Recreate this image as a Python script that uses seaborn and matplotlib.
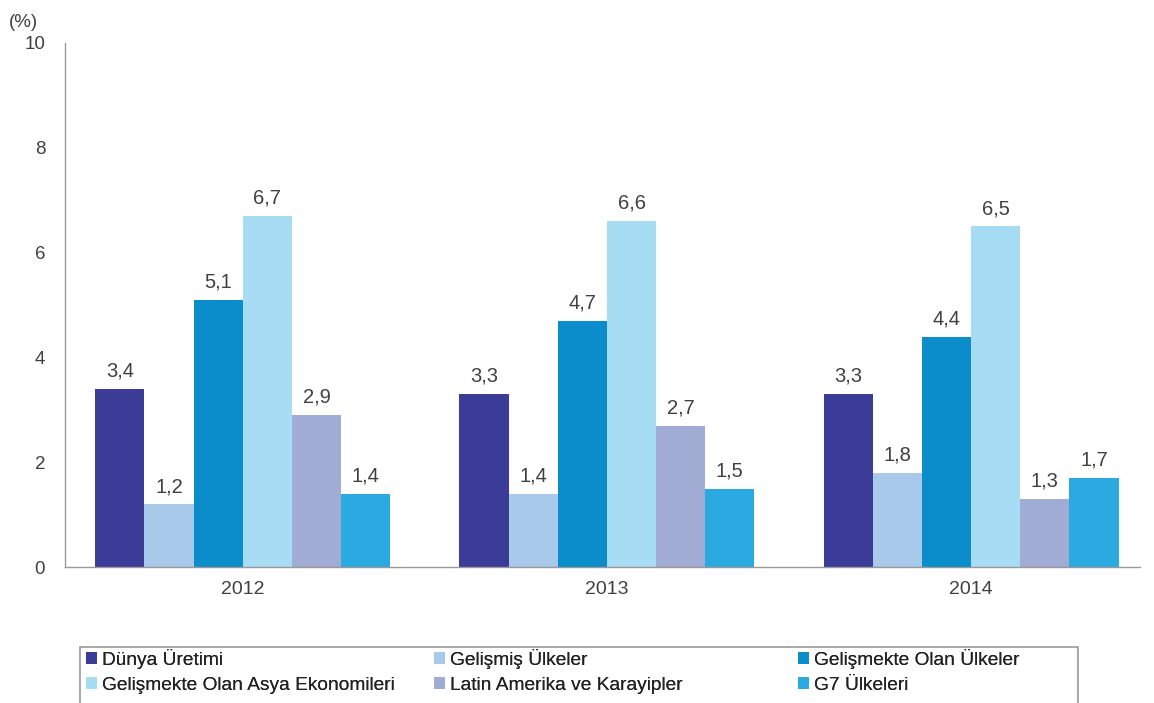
import numpy as np
import pandas as pd
import matplotlib
matplotlib.use("Agg")
import matplotlib.pyplot as plt
from matplotlib.patches import Patch, Rectangle
import seaborn as sns

# Data
years = ['2012', '2013', '2014']
series = ['Dünya Üretimi', 'Gelişmiş Ülkeler', 'Gelişmekte Olan Ülkeler',
          'Gelişmekte Olan Asya Ekonomileri', 'Latin Amerika ve Karayipler',
          'G7 Ülkeleri']
dunya = [3.4, 3.3, 3.3]
gelismis = [1.2, 1.4, 1.8]
gelismekte = [5.1, 4.7, 4.4]
asya = [6.7, 6.6, 6.5]
latin = [2.9, 2.7, 1.3]
g7 = [1.4, 1.5, 1.7]
colors = ['#3a3c98', '#a9c9ea', '#0b8ccb', '#a7dcf5', '#a1acd5', '#2ba9e1']

values = [dunya, gelismis, gelismekte, asya, latin, g7]
df = pd.DataFrame({
    'year': [y for s in series for y in years],
    'series': [s for s in series for _ in years],
    'value': [v for vals in values for v in vals],
})

sns.set_style('white')
plt.rcParams['font.family'] = ['Liberation Sans', 'DejaVu Sans']
txt_color = '#404040'

fig = plt.figure(figsize=(11.54, 7.03), dpi=100)
ax = fig.add_axes([0.056, 0.193, 0.932, 0.746])

sns.barplot(data=df, x='year', y='value', hue='series', hue_order=series,
            order=years, palette=colors, width=0.81, gap=0, saturation=1,
            linewidth=0, legend=False, ax=ax)

for cont in ax.containers:
    ax.bar_label(cont, labels=[f'{v:.1f}'.replace('.', ',') for v in cont.datavalues],
                 padding=6, fontsize=14.5, color=txt_color)

ax.set_ylim(0, 10)
ax.set_yticks([0, 2, 4, 6, 8, 10])
ax.set_xlim(-0.489, 2.464)
ax.set_xlabel('')
ax.set_ylabel('')
ax.set_xticks([0.5, 1.5], minor=True)
ax.tick_params(axis='x', which='major', length=0, pad=10, labelsize=14, colors=txt_color)
ax.tick_params(axis='x', which='minor', length=5, color='#999999', direction='out')
ax.tick_params(axis='y', length=5, direction='out', pad=9,
               labelsize=13.5, labelcolor=txt_color, color='#999999')
for side in ['top', 'right']:
    ax.spines[side].set_visible(False)
for side in ['left', 'bottom']:
    ax.spines[side].set_color('#999999')
    ax.spines[side].set_linewidth(1)

fig.text(0.008, 0.962, '(%)', fontsize=13.5, color=txt_color)

# Legend: three columns placed like the reference, one shared frame
handles = [Patch(facecolor=c, edgecolor='none') for c in colors]
col_x = [86 / 1154, 434 / 1154, 798 / 1154]
for k, x0 in enumerate(col_x):
    leg = fig.legend([handles[k], handles[k + 3]], [series[k], series[k + 3]],
                     loc='upper left', bbox_to_anchor=(x0, (703 - 649) / 703),
                     frameon=False, fontsize=13.8, handlelength=0.55,
                     handleheight=0.55, handletextpad=0.3, borderaxespad=0,
                     borderpad=0, labelspacing=0.4)
    for t in leg.get_texts():
        t.set_color('#222222')
    fig.add_artist(leg)

fig.add_artist(Rectangle((80 / 1154, -0.01), 998 / 1154, (703 - 647) / 703 + 0.01,
                         transform=fig.transFigure, fill=False,
                         edgecolor='#999999', linewidth=1.2))

fig.savefig('out.png', dpi=100)
